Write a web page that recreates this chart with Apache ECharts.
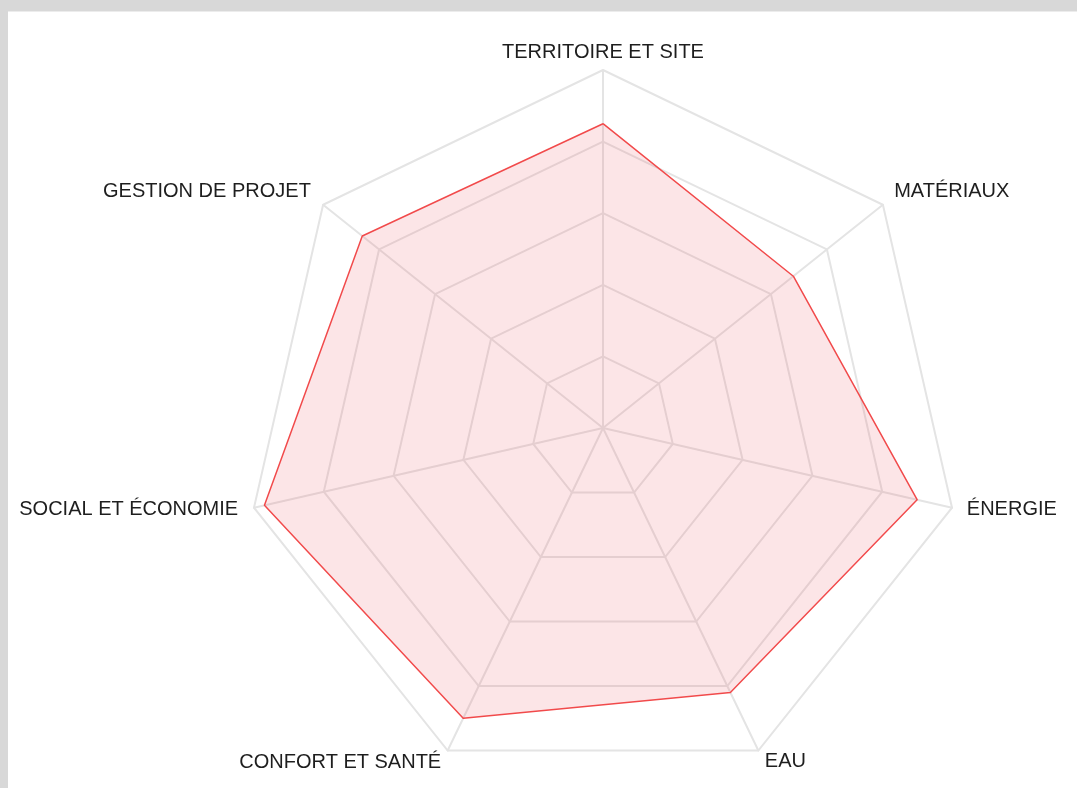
<!DOCTYPE html>
<html>
<head>
<meta charset="utf-8">
<script src="https://cdn.jsdelivr.net/npm/echarts@6/dist/echarts.min.js"></script>
<style>
  html, body { margin: 0; padding: 0; background: #d8d8d8; width: 1077px; height: 788px; overflow: hidden; }
  #panel { position: absolute; left: 8px; top: 11px; width: 1069px; height: 777px; background: #ffffff; border-top: 1px solid #ececec; box-sizing: border-box; }
  #chart { position: absolute; left: 0; top: 0; width: 1069px; height: 777px; }
</style>
</head>
<body>
<div id="panel"><div id="chart"></div></div>
<script>
// Categories in reading order (clockwise from the top)
const categories = ['TERRITOIRE ET SITE', 'MATÉRIAUX', 'ÉNERGIE', 'EAU', 'CONFORT ET SANTÉ', 'SOCIAL ET ÉCONOMIE', 'GESTION DE PROJET'];
// Scores (0–100)
const scores = [85, 68, 90, 82, 90, 97, 86];
const maxValue = 100;

// ECharts lays indicators counterclockwise: reorder so the picture reads clockwise
const order = [0, 6, 5, 4, 3, 2, 1];
const indicators = order.map(i => ({ name: categories[i], max: maxValue, min: 0 }));
const values = order.map(i => scores[i]);

// label fine-tuning paddings (style only)
const labelPad = {
  0: [0, 0, 0, 0],
  1: [0, 0, 16, 5],
  2: [0, 0, 0, 7],
  3: [8, 0, 0, 3],
  4: [9, 3, 0, 0],
  5: [0, 8, 0, 0],
  6: [0, 6, 16, 0]
};
const rich = {};
Object.keys(labelPad).forEach(k => {
  rich['l' + k] = { padding: labelPad[k], fontSize: 20, color: '#1e1e1e', fontFamily: 'Liberation Sans, Arial, sans-serif' };
});

const chart = echarts.init(document.getElementById('chart'), null, { renderer: 'canvas' });
chart.setOption({
  animation: false,
  radar: {
    center: [595, 416],
    radius: 358,
    startAngle: 90,
    splitNumber: 5,
    shape: 'polygon',
    indicator: indicators,
    nameGap: 8,
    axisName: {
      color: '#1e1e1e',
      fontSize: 20,
      fontFamily: 'Liberation Sans, Arial, sans-serif',
      formatter: function (name) {
        const idx = categories.indexOf(name);
        return '{l' + idx + '|' + name + '}';
      },
      rich: rich
    },
    splitArea: { show: false },
    splitLine: { lineStyle: { color: '#e4e4e4', width: 2 } },
    axisLine: { lineStyle: { color: '#e4e4e4', width: 2 } },
    axisTick: { show: false },
    axisLabel: { show: false }
  },
  series: [{
    type: 'radar',
    symbol: 'none',
    data: [{
      value: values,
      lineStyle: { color: '#f24a4a', width: 1.5 },
      areaStyle: { color: 'rgba(235, 85, 95, 0.22)' }
    }]
  }]
});
</script>
</body>
</html>
